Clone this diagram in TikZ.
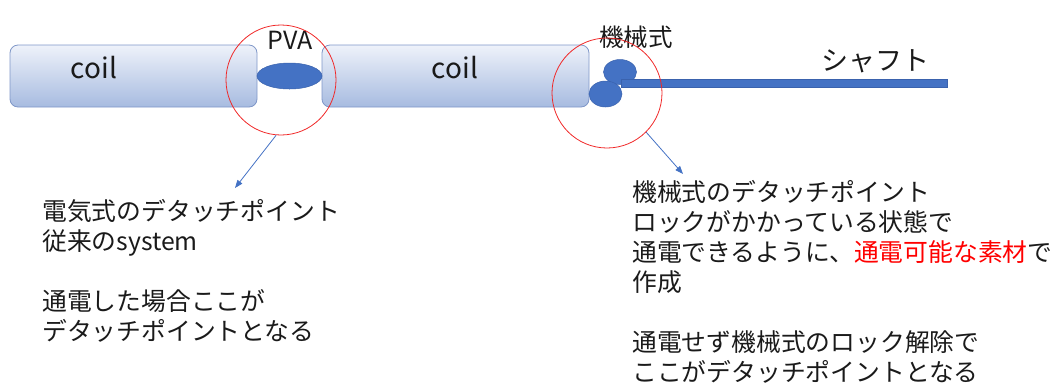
\documentclass[tikz,border=0pt]{standalone}
\usepackage{fontspec}
\setmainfont{Noto Sans CJK JP}
\usetikzlibrary{arrows.meta,shapes.geometric}
\definecolor{coilB}{HTML}{7F97C8}
\definecolor{coilTop}{HTML}{EEF2FA}
\definecolor{coilBot}{HTML}{A7BBE0}
\definecolor{accent}{HTML}{4472C4}
\definecolor{accentD}{HTML}{3A62AD}
\definecolor{ringred}{HTML}{F02828}
\definecolor{txt}{HTML}{1A1A1A}
\begin{document}
\begin{tikzpicture}[x=1pt,y=-1pt,
  coil/.style={rectangle, rounded corners=8pt, draw=coilB, line width=0.8pt,
    top color=coilTop, bottom color=coilBot, minimum height=62pt, inner sep=0pt},
  blob/.style={ellipse, fill=accent, draw=accentD, line width=0.5pt, inner sep=0pt},
  shaftbar/.style={rectangle, fill=accent, draw=accentD, line width=0.5pt, inner sep=0pt},
  ring/.style={circle, draw=ringred, line width=0.8pt, minimum size=110pt, inner sep=0pt},
  conn/.style={draw=accent, line width=0.8pt, -{Triangle[length=8pt,width=6pt]}},
  lbl/.style={inner sep=0pt, text=txt},
  para/.style={inner sep=0pt, anchor=base west, text=txt, font=\fontsize{24.8}{30}\selectfont}
]
\useasboundingbox (0,0) rectangle (1058,384);

% coils
\node[coil, minimum width=247pt] (coil1) at (133.5,76) {};
\node[coil, minimum width=267pt] (coil2) at (455.5,76) {};
\node[lbl, font=\fontsize{28}{32}\selectfont] (coil1t) at (94,68) {coil};
\node[lbl, font=\fontsize{28}{32}\selectfont] (coil2t) at (455,68) {coil};

% PVA joint
\node[blob, minimum width=65pt, minimum height=26pt] (pva) at (289.5,76) {};
\node[lbl, font=\fontsize{25}{29}\selectfont] (pvat) at (290,40) {PVA};

% mechanical joint and shaft
\node[blob, minimum width=33pt, minimum height=25pt] (m1) at (620,72) {};
\node[blob, minimum width=33pt, minimum height=26pt] (m2) at (605.5,94) {};
\node[shaftbar, minimum width=326pt, minimum height=8pt] (shaft) at (784,83) {};
\node[lbl, font=\fontsize{24.5}{28}\selectfont] (mecht) at (636,37) {機械式};
\node[lbl, font=\fontsize{27}{31}\selectfont] (shaftt) at (875,61) {シャフト};

% red rings
\node[ring] (c1) at (281,80) {};
\node[ring] (c2) at (607,93) {};

% arrows
\coordinate (a1) at (235,188);
\coordinate (a2) at (683,174);
\draw[conn] (c1.-95) -- (a1);
\draw[conn] (c2.-45) -- (a2);

% left text
\node[para] (l1) at (42,220) {電気式のデタッチポイント};
\node[para] (l2) at (42,250) {従来のsystem};
\node[para] (l3) at (42,310) {通電した場合ここが};
\node[para] (l4) at (42,340) {デタッチポイントとなる};

% right text
\node[para] (r1) at (632,201) {機械式のデタッチポイント};
\node[para] (r2) at (632,231) {ロックがかかっている状態で};
\node[para] (r3) at (632,261) {通電できるように、{\color{red}通電可能な素材}で};
\node[para] (r4) at (632,291) {作成};
\node[para] (r5) at (632,351) {通電せず機械式のロック解除で};
\node[para] (r6) at (632,381) {ここがデタッチポイントとなる};
\end{tikzpicture}
\end{document}
